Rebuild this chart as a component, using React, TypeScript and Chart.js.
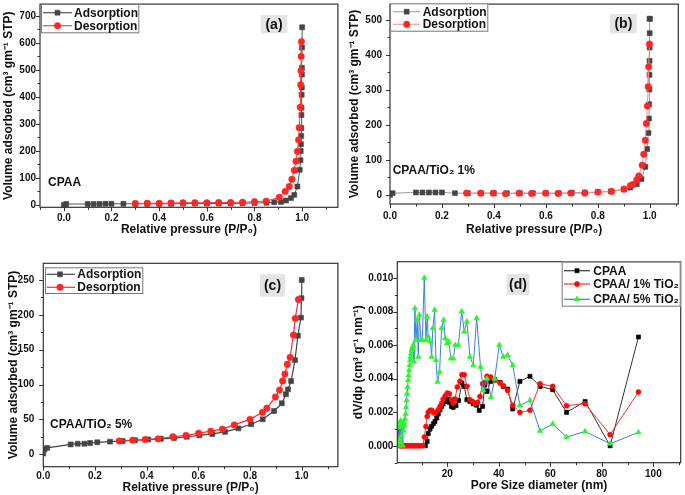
import React, { useEffect, useRef } from 'react';
import { Chart, registerables } from 'chart.js';

Chart.register(...registerables);

const FONT = "'Liberation Sans', Arial, Helvetica, sans-serif";

// ---------- (a) CPAA ----------
const aAdsP = [0.0, 0.01, 0.1, 0.125, 0.15, 0.175, 0.2, 0.25, 0.3, 0.35, 0.4, 0.45, 0.5, 0.55, 0.6, 0.65, 0.7, 0.75, 0.8, 0.85, 0.883, 0.911, 0.932, 0.953, 0.967, 0.98, 0.99, 0.993, 0.994, 0.995, 0.996, 0.9965, 0.997, 0.9975, 0.998, 0.9985, 0.999, 0.9993, 0.9996, 1.0];
const aAdsV = [0, 3, 3, 3, 3, 4, 4, 4, 4, 4, 4, 4, 5, 5, 5, 5, 5, 6, 7, 8, 10, 11, 16, 25, 37, 68, 130, 165, 200, 225, 255, 285, 333, 360, 408, 435, 483, 508, 583, 658];
const aDesP = [0.997, 0.996, 0.995, 0.994, 0.992, 0.9875, 0.985, 0.98, 0.974, 0.967, 0.957, 0.946, 0.929, 0.904, 0.849, 0.8, 0.75, 0.7, 0.65, 0.6, 0.55, 0.5, 0.45, 0.4, 0.35, 0.3];
const aDesV = [605, 550, 497, 445, 362, 286, 241, 198, 162, 128, 95, 68, 50, 28, 14, 12, 10, 9, 9, 8, 8, 8, 7, 6, 6, 5];

// ---------- (b) CPAA/TiO2 1% ----------
const bAdsP = [0.0, 0.01, 0.1, 0.125, 0.15, 0.175, 0.2, 0.25, 0.3, 0.35, 0.4, 0.45, 0.5, 0.55, 0.6, 0.65, 0.7, 0.75, 0.8, 0.85, 0.9, 0.925, 0.95, 0.968, 0.983, 0.99, 0.995, 0.997, 0.998, 0.9985, 0.999, 0.9993, 0.9996, 0.9998, 1.0, 1.0];
const bAdsV = [0, 5, 7, 7, 7, 7, 7, 5, 5, 5, 5, 5, 5, 5, 5, 5, 6, 7, 8, 10, 15, 21, 30, 45, 80, 131, 177, 218, 259, 301, 343, 383, 421, 462, 503, 503];
const bDesP = [0.999, 0.996, 0.994, 0.991, 0.987, 0.983, 0.977, 0.971, 0.958, 0.95, 0.936, 0.926, 0.901, 0.853, 0.801, 0.75, 0.696, 0.647, 0.599, 0.545, 0.497, 0.445, 0.397, 0.349, 0.295];
const bDesV = [431, 366, 309, 254, 204, 156, 116, 85, 54, 43, 30, 27, 17, 10, 8, 5, 5, 4, 5, 4, 5, 3, 5, 5, 5];

// ---------- (c) CPAA/TiO2 5% ----------
const cAdsP = [0.0, 0.005, 0.015, 0.106, 0.133, 0.159, 0.181, 0.209, 0.258, 0.307, 0.355, 0.406, 0.455, 0.506, 0.555, 0.604, 0.654, 0.703, 0.755, 0.804, 0.849, 0.893, 0.923, 0.939, 0.947, 0.959, 0.974, 0.985, 0.997, 0.999, 1.0];
const cAdsV = [1, 7, 9, 14, 15, 15, 16, 17, 18, 19, 20, 21, 22, 23, 25, 27, 29, 32, 37, 43, 50, 62, 73, 86, 93, 105, 135, 170, 196, 224, 250];
const cDesP = [0.987, 0.975, 0.968, 0.955, 0.944, 0.935, 0.926, 0.914, 0.898, 0.865, 0.848, 0.8, 0.739, 0.693, 0.648, 0.601, 0.552, 0.501, 0.444, 0.394, 0.346, 0.294];
const cDesV = [222, 195, 171, 139, 129, 115, 105, 92, 82, 66, 60, 50, 42, 36, 33, 30, 27, 25, 22, 21, 20, 19];

// ---------- (d) pore size distribution ----------
const dCpaaD = [11.5, 12.2, 12.6, 13.3, 13.9, 14.6, 15.2, 15.9, 16.5, 17.2, 17.8, 18.4, 19.2, 20.0, 20.8, 21.6, 22.3, 23.4, 24.4, 25.7, 26.6, 27.6, 28.8, 30.1, 31.4, 32.4, 33.7, 34.6, 35.4, 36.8, 38.5, 40.5, 41.7, 43.4, 45.4, 48.2, 52.1, 56.0, 60.9, 66.3, 73.5, 83.2, 94.2];
const dCpaaV = [0, 0.00026, 0.00072, 0.00099, 0.00115, 0.00131, 0.00145, 0.00165, 0.00189, 0.00215, 0.00235, 0.0025, 0.00264, 0.00278, 0.00258, 0.00235, 0.00229, 0.00239, 0.0027, 0.00374, 0.00354, 0.00274, 0.00264, 0.00249, 0.00241, 0.00211, 0.00235, 0.00364, 0.00324, 0.00384, 0.00394, 0.00378, 0.00354, 0.00338, 0.00219, 0.00384, 0.00414, 0.00354, 0.00334, 0.00199, 0.00264, 0.0, 0.00648];

const dTi1D = [0.9, 1.2, 1.6, 2.0, 2.5, 3.0, 3.5, 4.0, 4.6, 5.2, 5.8, 6.4, 7.0, 7.7, 8.4, 9.1, 9.8, 10.5, 11.1, 11.7, 12.2, 12.6, 13.3, 14.0, 14.8, 15.6, 16.5, 17.2, 17.8, 18.4, 19.2, 20.0, 20.8, 21.6, 22.3, 23.0, 23.9, 24.9, 25.7, 26.6, 27.6, 28.8, 29.8, 30.7, 31.8, 32.7, 33.7, 34.6, 35.4, 36.8, 38.5, 40.5, 41.7, 43.4, 45.4, 48.2, 52.1, 56.0, 60.9, 66.3, 73.5, 83.2, 94.2];
const dTi1V = [0.0009, 0.0005, 0, 0, 0, 0, 0, 0, 0, 0, 0, 0, 0, 0, 0, 0, 0, 0, 0.00052, 0.00115, 0.00175, 0.00199, 0.00211, 0.00211, 0.00195, 0.00199, 0.00215, 0.00235, 0.00254, 0.00278, 0.00298, 0.00314, 0.0031, 0.00274, 0.00254, 0.00278, 0.0035, 0.00384, 0.00423, 0.00423, 0.00354, 0.00274, 0.00264, 0.00254, 0.0026, 0.00294, 0.0037, 0.00378, 0.00414, 0.0041, 0.0039, 0.00374, 0.00358, 0.0033, 0.00241, 0.00199, 0.00211, 0.0037, 0.00354, 0.00239, 0.0025, 0.00066, 0.0032];

const dTi5D = [1.0, 1.2, 1.4, 1.6, 1.8, 2.0, 2.2, 2.4, 2.6, 2.8, 3.0, 3.2, 3.4, 3.6, 3.8, 4.0, 4.2, 4.4, 4.6, 4.8, 5.0, 5.2, 5.4, 5.6, 5.8, 6.0, 6.2, 6.4, 6.6, 6.8, 7.05, 7.44, 7.83, 8.35, 8.74, 9.13, 9.77, 10.3, 11.07, 11.7, 12.2, 12.6, 13.5, 13.9, 14.4, 15.1, 15.6, 16.2, 17.0, 17.8, 18.6, 19.2, 19.9, 20.6, 21.4, 22.3, 23.1, 24.3, 25.6, 26.6, 27.6, 28.8, 30.1, 31.4, 32.9, 34.0, 35.4, 37.0, 38.4, 40.2, 41.7, 43.4, 45.4, 48.2, 52.1, 56.0, 60.9, 66.3, 73.5, 83.2, 94.2];
const dTi5V = [0.0, 0.0011, 0.0004, 0.0014, 0.0002, 0.0015, 0.0006, 0.0013, 0.0, 0.0012, 0.0009, 0.0014, 0.0012, 0.0016, 0.0019, 0.0023, 0.0027, 0.0031, 0.0035, 0.0039, 0.0042, 0.0045, 0.0048, 0.0051, 0.0053, 0.0055, 0.0057, 0.0058, 0.0059, 0.006, 0.005, 0.0082, 0.0063, 0.0075, 0.0053, 0.0078, 0.0063, 0.0063, 0.01, 0.0063, 0.0077, 0.0065, 0.0062, 0.0053, 0.007, 0.0081, 0.0051, 0.0038, 0.0044, 0.007, 0.0075, 0.0064, 0.0061, 0.0062, 0.0052, 0.0052, 0.006, 0.006, 0.008, 0.0068, 0.0074, 0.0053, 0.0048, 0.0076, 0.0047, 0.0033, 0.004, 0.0029, 0.004, 0.006, 0.0053, 0.0054, 0.0048, 0.0024, 0.0027, 0.00089, 0.0013, 0.00052, 0.00085, 0.00012, 0.0008];

// ---------- styling ----------
const AXIS = '#333';
const TEXT = '#111';
const GREY = '#444';
const RED = '#ff2626';

type Marker = 'rect' | 'circle' | 'triangle';
interface AxisSpec { min: number; max: number; major: number; minor: number; digits: number; title: string; tickPad: number; titlePad: number; }
interface LegendItem { label: string; marker: Marker; fill: string; stroke: string; line: string; r: number; y: number; }
interface PanelSpec {
  left: number; top: number; width: number; height: number;
  area: { left: number; top: number; right: number; bottom: number };
  x: AxisSpec; y: AxisSpec;
  datasets: any[];
  legend: { box: number[]; lineX0: number; lineX1: number; markerX: number; textX: number; items: LegendItem[] };
  tag: { text: string; box: number[] };
  note?: { text: string; x: number; y: number };
}

const pts = (xs: number[], ys: number[]) => xs.map((x, i) => ({ x, y: ys[i] }));

function series(label: string, data: any[], marker: Marker, fill: string, line: string, r: number, order: number, lw = 1) {
  return {
    label, data, showLine: true, order,
    borderColor: line, borderWidth: lw, backgroundColor: fill,
    pointStyle: marker, pointRadius: r, pointHoverRadius: r,
    pointBackgroundColor: fill, pointBorderColor: fill, pointBorderWidth: 0.6,
    tension: 0,
  };
}

function drawMarker(ctx: CanvasRenderingContext2D, m: Marker, x: number, y: number, r: number, fill: string, stroke: string) {
  ctx.beginPath();
  if (m === 'rect') {
    const s = r * Math.SQRT1_2;
    ctx.rect(x - s, y - s, 2 * s, 2 * s);
  } else if (m === 'circle') {
    ctx.arc(x, y, r, 0, Math.PI * 2);
  } else {
    ctx.moveTo(x, y - r);
    ctx.lineTo(x + r * 0.866, y + r * 0.5);
    ctx.lineTo(x - r * 0.866, y + r * 0.5);
    ctx.closePath();
  }
  ctx.fillStyle = fill;
  ctx.fill();
  ctx.strokeStyle = stroke;
  ctx.lineWidth = 0.6;
  ctx.stroke();
}

function drawDeco(chart: any, spec: PanelSpec) {
  const ctx: CanvasRenderingContext2D = chart.ctx;
  const ox = spec.left, oy = spec.top;
  const { left, right, top, bottom } = chart.chartArea;
  const xs = chart.scales.x, ys = chart.scales.y;
  ctx.save();
  // ticks (outward, major + minor)
  ctx.strokeStyle = AXIS;
  ctx.lineWidth = 1;
  ctx.beginPath();
  for (let k = Math.ceil(spec.x.min / spec.x.minor - 1e-9); k * spec.x.minor <= spec.x.max + 1e-9; k++) {
    const v = k * spec.x.minor;
    const r = v / spec.x.major;
    const major = Math.abs(r - Math.round(r)) < 1e-6;
    const px = Math.round(xs.getPixelForValue(v)) + 0.5;
    ctx.moveTo(px, bottom);
    ctx.lineTo(px, bottom + (major ? 4 : 2.5));
  }
  for (let k = Math.ceil(spec.y.min / spec.y.minor - 1e-9); k * spec.y.minor <= spec.y.max + 1e-12; k++) {
    const v = k * spec.y.minor;
    const r = v / spec.y.major;
    const major = Math.abs(r - Math.round(r)) < 1e-6;
    const py = Math.round(ys.getPixelForValue(v)) + 0.5;
    ctx.moveTo(left, py);
    ctx.lineTo(left - (major ? 4 : 2.5), py);
  }
  ctx.stroke();
  // frame
  ctx.lineWidth = 1.2;
  ctx.strokeStyle = AXIS;
  ctx.strokeRect(left, top, right - left, bottom - top);

  // legend
  const L = spec.legend;
  const [bx0, by0, bx1, by1] = L.box;
  ctx.fillStyle = '#fff';
  ctx.fillRect(bx0 - ox, by0 - oy, bx1 - bx0, by1 - by0);
  ctx.strokeStyle = '#777';
  ctx.lineWidth = 1;
  ctx.strokeRect(bx0 - ox + 0.5, by0 - oy + 0.5, bx1 - bx0 - 1, by1 - by0 - 1);
  for (const it of L.items) {
    const y = it.y - oy;
    ctx.strokeStyle = it.line;
    ctx.lineWidth = 1.2;
    ctx.beginPath();
    ctx.moveTo(L.lineX0 - ox, y);
    ctx.lineTo(L.lineX1 - ox, y);
    ctx.stroke();
    drawMarker(ctx, it.marker, L.markerX - ox, y, it.r, it.fill, it.stroke);
    ctx.fillStyle = TEXT;
    ctx.font = `bold 12px ${FONT}`;
    ctx.textAlign = 'left';
    ctx.textBaseline = 'middle';
    ctx.fillText(it.label, L.textX - ox, y + 0.5);
  }

  // panel tag
  const T = spec.tag;
  ctx.fillStyle = '#e4e4e4';
  ctx.fillRect(T.box[0] - ox, T.box[1] - oy, T.box[2] - T.box[0], T.box[3] - T.box[1]);
  ctx.fillStyle = TEXT;
  ctx.font = `bold 14px ${FONT}`;
  ctx.textAlign = 'center';
  ctx.textBaseline = 'middle';
  ctx.fillText(T.text, (T.box[0] + T.box[2]) / 2 - ox, (T.box[1] + T.box[3]) / 2 - oy + 0.5);

  // sample note
  if (spec.note) {
    ctx.font = `bold 12px ${FONT}`;
    ctx.textAlign = 'left';
    ctx.textBaseline = 'middle';
    ctx.fillText(spec.note.text, spec.note.x - ox, spec.note.y - oy);
  }
  ctx.restore();
}

function axisOptions(a: AxisSpec, horizontal: boolean, spec: PanelSpec) {
  const ar = spec.area;
  return {
    type: 'linear',
    position: horizontal ? 'bottom' : 'left',
    min: a.min,
    max: a.max,
    afterFit: (s: any) => {
      if (horizontal) {
        s.height = spec.top + spec.height - ar.bottom;
        s.paddingLeft = 0;
        s.paddingRight = 0;
      } else {
        s.width = ar.left - spec.left;
        s.paddingTop = 0;
        s.paddingBottom = 0;
      }
    },
    grid: { display: false, drawTicks: false },
    border: { display: false },
    ticks: {
      stepSize: a.major,
      includeBounds: false,
      autoSkip: false,
      maxRotation: 0,
      minRotation: 0,
      padding: a.tickPad,
      color: TEXT,
      font: { family: FONT, size: 10, weight: 'bold' },
      callback: (v: any) => Number(v).toFixed(a.digits),
    },
    title: {
      display: true,
      text: a.title,
      color: TEXT,
      font: { family: FONT, size: 12, weight: 'bold' },
      padding: horizontal ? { top: 0, bottom: a.titlePad } : { top: a.titlePad, bottom: 0 },
    },
  };
}

function Panel({ spec }: { spec: PanelSpec }) {
  const ref = useRef<HTMLCanvasElement>(null);
  useEffect(() => {
    const ar = spec.area;
    const chart = new Chart(ref.current as HTMLCanvasElement, {
      type: 'scatter',
      data: { datasets: spec.datasets },
      options: {
        animation: false,
        responsive: false,
        devicePixelRatio: 1,
        layout: {
          padding: { left: 0, top: ar.top - spec.top, right: spec.left + spec.width - ar.right, bottom: 0 },
        },
        plugins: { legend: { display: false }, tooltip: { enabled: false } },
        scales: {
          x: axisOptions(spec.x, true, spec),
          y: axisOptions(spec.y, false, spec),
        },
      } as any,
      plugins: [{ id: 'deco', afterDraw: (c: any) => drawDeco(c, spec) }],
    });
    return () => chart.destroy();
  }, [spec]);
  return (
    <canvas
      ref={ref}
      width={spec.width}
      height={spec.height}
      style={{ position: 'absolute', left: spec.left, top: spec.top, width: spec.width, height: spec.height }}
    />
  );
}

const P_TITLE = 'Relative pressure (P/P\u2080)';
const V_TITLE = 'Volume adsorbed (cm\u00b3 gm\u207b\u00b9 STP)';

const adsItem = (y: number, line: string): LegendItem => ({ label: 'Adsorption', marker: 'rect', fill: GREY, stroke: GREY, line, r: 3.5, y });
const desItem = (y: number, line: string): LegendItem => ({ label: 'Desorption', marker: 'circle', fill: RED, stroke: RED, line, r: 3.2, y });

const SPECS: PanelSpec[] = [
  {
    left: 0, top: 0, width: 342, height: 240,
    area: { left: 40, top: 4, right: 339.3, bottom: 207.3 },
    x: { min: -0.1, max: 1.15, major: 0.2, minor: 0.1, digits: 1, title: P_TITLE, tickPad: 5, titlePad: 3.5 },
    y: { min: -9, max: 744, major: 100, minor: 50, digits: 0, title: V_TITLE, tickPad: 4, titlePad: 1.1 },
    datasets: [
      series('Adsorption', pts(aAdsP, aAdsV), 'rect', GREY, '#555', 3.5, 1),
      series('Desorption', pts(aDesP, aDesV), 'circle', RED, '#ff4040', 3.2, 0),
    ],
    legend: { box: [41, 4, 139.3, 33.3], lineX0: 43, lineX1: 72, markerX: 57.5, textX: 74, items: [adsItem(12.7, '#555'), desItem(25.7, '#ff4040')] },
    tag: { text: '(a)', box: [260.7, 15, 287.3, 33.3] },
    note: { text: 'CPAA', x: 48, y: 182.7 },
  },
  {
    left: 342, top: 0, width: 343, height: 240,
    area: { left: 390, top: 3.3, right: 678.3, bottom: 204 },
    x: { min: 0, max: 1.11, major: 0.2, minor: 0.1, digits: 1, title: P_TITLE, tickPad: 6, titlePad: 3.5 },
    y: { min: -26, max: 545, major: 100, minor: 50, digits: 0, title: V_TITLE, tickPad: 8, titlePad: 5.8 },
    datasets: [
      series('Adsorption', pts(bAdsP, bAdsV), 'rect', GREY, '#9a9a9a', 3.5, 1),
      series('Desorption', pts(bDesP, bDesV), 'circle', RED, '#ff8a8a', 3.2, 0),
    ],
    legend: { box: [390, 3.3, 488.3, 31.7], lineX0: 393, lineX1: 420, markerX: 406.7, textX: 422.7, items: [adsItem(11.7, '#aaa'), desItem(24.3, '#ff9a9a')] },
    tag: { text: '(b)', box: [610, 14, 636.7, 33.3] },
    note: { text: 'CPAA/TiO\u2082 1%', x: 392.7, y: 170.7 },
  },
  {
    left: 0, top: 240, width: 342, height: 255,
    area: { left: 43.3, top: 263.3, right: 338.3, bottom: 466.7 },
    x: { min: 0, max: 1.14, major: 0.2, minor: 0.1, digits: 1, title: P_TITLE, tickPad: 3.6, titlePad: 0.5 },
    y: { min: -18, max: 274, major: 50, minor: 25, digits: 0, title: V_TITLE, tickPad: 9, titlePad: 6.1 },
    datasets: [
      series('Adsorption', pts(cAdsP, cAdsV), 'rect', GREY, '#444', 3.5, 1, 1.2),
      series('Desorption', pts(cDesP, cDesV), 'circle', RED, '#ff2a2a', 3.2, 0, 1.2),
    ],
    legend: { box: [45, 267.3, 143.3, 294], lineX0: 46.7, lineX1: 75, markerX: 60, textX: 77.3, items: [adsItem(274.3, '#444'), desItem(287.3, '#ff2a2a')] },
    tag: { text: '(c)', box: [260, 274.3, 285, 296.7] },
    note: { text: 'CPAA/TiO\u2082 5%', x: 50, y: 425 },
  },
  {
    left: 342, top: 240, width: 343, height: 255,
    area: { left: 397.3, top: 261.7, right: 680.7, bottom: 462.7 },
    x: { min: 0.6, max: 110.6, major: 20, minor: 10, digits: 0, title: 'Pore Size diameter (nm)', tickPad: 5.5, titlePad: 1.8 },
    y: { min: -0.00101, max: 0.01097, major: 0.002, minor: 0.001, digits: 3, title: 'dV/dp (cm\u00b3 g\u207b\u00b9 nm\u207b\u00b9)', tickPad: 4, titlePad: 9.1 },
    datasets: [
      series('CPAA', pts(dCpaaD, dCpaaV), 'rect', '#000', '#333', 2.9, 2),
      series('CPAA/ 1% TiO\u2082', pts(dTi1D, dTi1V), 'circle', '#ff0a0a', '#ff3030', 2.5, 1),
      series('CPAA/ 5% TiO\u2082', pts(dTi5D, dTi5V), 'triangle', '#2ef52e', '#3b7fe0', 3.2, 0),
    ],
    legend: {
      box: [561.7, 261.7, 680.7, 306.7], lineX0: 564, lineX1: 590, markerX: 577, textX: 593.3,
      items: [
        { label: 'CPAA', marker: 'rect', fill: '#000', stroke: '#000', line: '#333', r: 2.9, y: 270.7 },
        { label: 'CPAA/ 1% TiO\u2082', marker: 'circle', fill: '#ff0a0a', stroke: '#ff0a0a', line: '#ff3030', r: 2.6, y: 284 },
        { label: 'CPAA/ 5% TiO\u2082', marker: 'triangle', fill: '#2ef52e', stroke: '#2ef52e', line: '#3b7fe0', r: 3.3, y: 299.3 },
      ],
    },
    tag: { text: '(d)', box: [506.7, 274, 529.3, 295] },
  },
];

export default function App() {
  return (
    <div style={{ position: 'absolute', left: 0, top: 0, width: 685, height: 495, background: '#fff', overflow: 'hidden' }}>
      {SPECS.map((s, i) => (
        <Panel key={i} spec={s} />
      ))}
    </div>
  );
}
